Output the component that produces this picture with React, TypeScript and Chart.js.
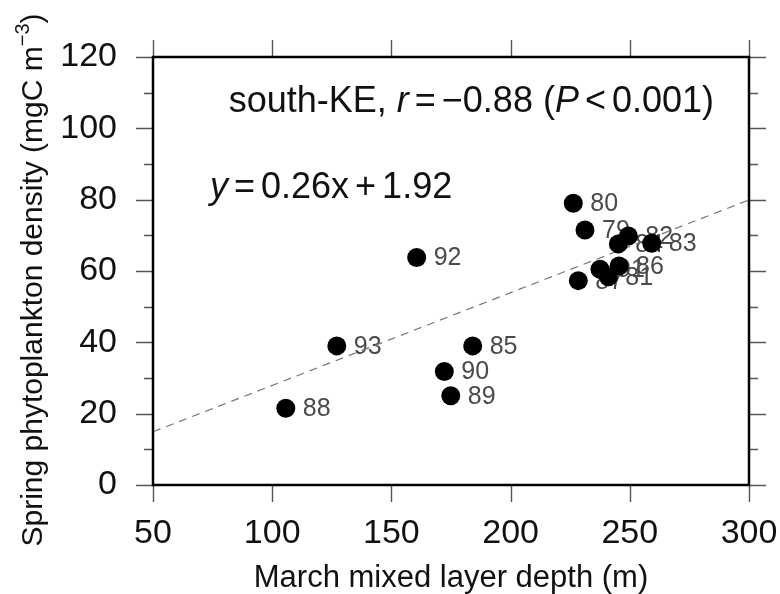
import React, { useEffect, useRef } from 'react';
import { Chart, registerables } from 'chart.js';

Chart.register(...registerables);

// ---- data ----
const years = ['79', '80', '81', '82', '83', '84', '85', '86', '87', '88', '89', '90', '91', '92', '93'];
const mldX = [231.2, 226.3, 241.0, 249.4, 259.2, 245.2, 184.1, 245.5, 228.4, 105.7, 174.9, 172.2, 237.5, 160.6, 127.1];
const phytoY = [71.5, 79.0, 58.4, 69.8, 67.8, 67.6, 39.0, 61.4, 57.3, 21.5, 25.0, 31.8, 60.5, 63.8, 39.0];
const fitX = [50, 300];
const fitY = [14.92, 79.92];
const xTickValues = [50, 100, 150, 200, 250, 300];
const yTickValues = [0, 10, 20, 30, 40, 50, 60, 70, 80, 90, 100, 110, 120];

const FONT = '"Liberation Sans", Arial, Helvetica, sans-serif';

type Seg = { t?: string; it?: boolean; gap?: number; size?: number; rise?: number };

function segWidth(ctx: CanvasRenderingContext2D, segs: Seg[], size: number) {
  let w = 0;
  for (const s of segs) {
    if (s.gap !== undefined) { w += s.gap; continue; }
    ctx.font = `${s.it ? 'italic ' : ''}${s.size ?? size}px ${FONT}`;
    w += ctx.measureText(s.t || '').width;
  }
  return w;
}

function drawSegs(ctx: CanvasRenderingContext2D, segs: Seg[], size: number, x: number, y: number) {
  let cx = x;
  for (const s of segs) {
    if (s.gap !== undefined) { cx += s.gap; continue; }
    ctx.font = `${s.it ? 'italic ' : ''}${s.size ?? size}px ${FONT}`;
    ctx.fillText(s.t || '', cx, y - (s.rise || 0));
    cx += ctx.measureText(s.t || '').width;
  }
}

const decor = {
  id: 'decor',
  beforeDatasetsDraw(chart: any) {
    const ctx: CanvasRenderingContext2D = chart.ctx;
    const meta = chart.getDatasetMeta(0);
    ctx.save();
    ctx.font = `25px ${FONT}`;
    ctx.fillStyle = '#4a4a4a';
    ctx.textAlign = 'left';
    ctx.textBaseline = 'middle';
    meta.data.forEach((el: any, i: number) => {
      ctx.fillText(years[i], el.x + 17, el.y + 1);
    });
    ctx.restore();
  },
  afterDraw(chart: any) {
    const ctx: CanvasRenderingContext2D = chart.ctx;
    const { left, right, top, bottom } = chart.chartArea;
    const xs = chart.scales.x;
    const ys = chart.scales.y;
    ctx.save();
    // tick marks
    ctx.strokeStyle = '#555';
    ctx.lineWidth = 1.4;
    ctx.beginPath();
    for (const v of yTickValues) {
      const py = Math.round(ys.getPixelForValue(v)) + 0.5;
      const len = v % 20 === 0 ? 17 : 9;
      ctx.moveTo(left - len, py); ctx.lineTo(left, py);
      ctx.moveTo(right, py); ctx.lineTo(right + len, py);
    }
    for (const v of xTickValues) {
      const px = Math.round(xs.getPixelForValue(v)) + 0.5;
      ctx.moveTo(px, bottom); ctx.lineTo(px, bottom + 17);
      ctx.moveTo(px, top - 17); ctx.lineTo(px, top);
    }
    ctx.stroke();
    // frame
    ctx.strokeStyle = '#000';
    ctx.lineWidth = 2.5;
    ctx.strokeRect(left, top, right - left, bottom - top);

    ctx.fillStyle = '#111';
    ctx.textBaseline = 'alphabetic';
    ctx.textAlign = 'left';

    // annotation
    const ann: Seg[] = [
      { t: 'south-KE, ' }, { t: 'r', it: true }, { gap: 6 }, { t: '=' }, { gap: 6 },
      { t: '\u22120.88 (' }, { t: 'P', it: true }, { gap: 6 }, { t: '<' }, { gap: 6 }, { t: '0.001)' },
    ];
    const aw = segWidth(ctx, ann, 36);
    drawSegs(ctx, ann, 36, 714 - aw, 112);

    const eq: Seg[] = [
      { t: 'y', it: true }, { gap: 6 }, { t: '=' }, { gap: 6 }, { t: '0.26x' }, { gap: 6 },
      { t: '+' }, { gap: 6 }, { t: '1.92' },
    ];
    drawSegs(ctx, eq, 36, 210, 198);

    // x title
    ctx.font = `31px ${FONT}`;
    ctx.textAlign = 'center';
    ctx.fillText('March mixed layer depth (m)', (left + right) / 2, 587);

    // y title
    ctx.textAlign = 'left';
    const yt: Seg[] = [
      { t: 'Spring phytoplankton density (mgC m' },
      { t: '\u22123', size: 20, rise: 13 },
      { t: ')' },
    ];
    const yw = segWidth(ctx, yt, 30);
    ctx.translate(42, 280);
    ctx.rotate(-Math.PI / 2);
    drawSegs(ctx, yt, 30, -yw / 2, 0);
    ctx.restore();
  },
};

export default function App() {
  const ref = useRef<HTMLCanvasElement>(null);
  useEffect(() => {
    if (!ref.current) return;
    const chart = new Chart(ref.current, {
      type: 'scatter',
      data: {
        datasets: [
          {
            type: 'scatter',
            data: mldX.map((x, i) => ({ x, y: phytoY[i] })),
            pointRadius: 9.5,
            pointHoverRadius: 9.5,
            backgroundColor: '#000',
            borderColor: '#000',
            borderWidth: 0,
          },
          {
            type: 'line',
            data: fitX.map((x, i) => ({ x, y: fitY[i] })),
            borderColor: '#777',
            borderWidth: 1.2,
            borderDash: [8, 6],
            pointRadius: 0,
            fill: false,
          },
        ],
      } as any,
      options: {
        animation: false,
        responsive: false,
        events: [],
        layout: { padding: { top: 57, right: 31, left: 0, bottom: 0 } },
        plugins: { legend: { display: false }, tooltip: { enabled: false } },
        scales: {
          x: {
            type: 'linear',
            min: 50,
            max: 300,
            grid: { display: false, drawTicks: false },
            border: { display: false },
            ticks: { stepSize: 50, font: { size: 34, family: FONT }, color: '#111', padding: 28, maxRotation: 0 },
            afterFit: (s: any) => { s.height = 109; s.paddingRight = 0; s.paddingLeft = 0; },
          },
          y: {
            type: 'linear',
            min: 0,
            max: 120,
            grid: { display: false, drawTicks: false },
            border: { display: false },
            ticks: { stepSize: 20, font: { size: 34, family: FONT }, color: '#111', padding: 36 },
            afterFit: (s: any) => { s.width = 153; s.paddingTop = 0; s.paddingBottom = 0; },
          },
        },
      } as any,
      plugins: [decor],
    });
    return () => chart.destroy();
  }, []);
  return (
    <div style={{ position: 'fixed', left: 0, top: 0, width: 780, height: 594, background: '#fff' }}>
      <canvas ref={ref} width={780} height={594} style={{ display: 'block' }} />
    </div>
  );
}
